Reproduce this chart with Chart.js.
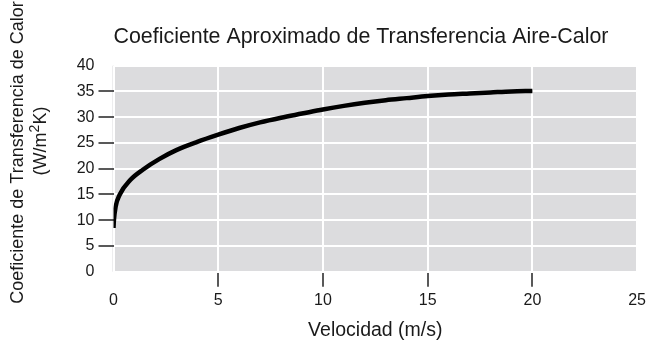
<!DOCTYPE html>
<html>
<head>
<meta charset="utf-8">
<script src="https://cdn.jsdelivr.net/npm/chart.js@4.4.1/dist/chart.umd.min.js"></script>
<style>
  html, body { margin: 0; padding: 0; background: #fff; }
  #wrap { width: 650px; height: 352px; }
</style>
</head>
<body>
<div id="wrap"><canvas id="grafico" width="650" height="352"></canvas></div>
<script>
  // Datos
  const velocidad = [0, 0.02, 0.1, 0.3, 0.8, 1.4, 2.2, 3, 4, 5, 6, 7, 8, 9, 10, 11, 12, 13, 14, 15, 16, 17, 18, 19, 20];
  const coeficiente = [8.5, 10, 12.6, 15, 17.8, 19.8, 21.9, 23.6, 25.2, 26.6, 27.9, 29, 29.9, 30.7, 31.5, 32.2, 32.8, 33.3, 33.7, 34.1, 34.4, 34.6, 34.8, 35, 35.1];

  const titulo = 'Coeficiente Aproximado de Transferencia Aire-Calor';
  const tituloX = 'Velocidad (m/s)';
  const tituloY1 = 'Coeficiente de Transferencia de Calor';
  const tituloY2 = ['(W/m', '2', 'K)']; // el 2 va como superíndice

  const FONT = "'Liberation Sans', Arial, Helvetica, sans-serif";
  const GRIS = '#dcdcde';
  const TEXTO = '#1a1a1a';

  // fondo gris del área de trazado
  const fondoPlugin = {
    id: 'fondoArea',
    beforeDraw(chart) {
      const { ctx, chartArea: { left, top, width, height } } = chart;
      ctx.save();
      ctx.fillStyle = GRIS;
      ctx.fillRect(left - 1, top, width + 1, height);
      ctx.restore();
    }
  };

  // título del eje Y en dos líneas, con m² como superíndice
  const tituloYPlugin = {
    id: 'tituloY',
    afterDraw(chart) {
      const { ctx } = chart;
      const fNormal = '18px ' + FONT;
      const fSup = '14px ' + FONT;
      ctx.save();
      ctx.fillStyle = TEXTO;
      ctx.textBaseline = 'middle';

      ctx.save();
      ctx.font = fNormal;
      ctx.translate(18, 152.5);
      ctx.rotate(-Math.PI / 2);
      ctx.textAlign = 'center';
      ctx.fillText(tituloY1, 0, 0);
      ctx.restore();

      // segunda línea
      ctx.font = fNormal;
      const w0 = ctx.measureText(tituloY2[0]).width;
      const w2 = ctx.measureText(tituloY2[2]).width;
      ctx.font = fSup;
      const w1 = ctx.measureText(tituloY2[1]).width;
      const total = w0 + w1 + w2;
      ctx.save();
      ctx.translate(41, 141);
      ctx.rotate(-Math.PI / 2);
      ctx.textAlign = 'left';
      let x = -total / 2;
      ctx.font = fNormal;
      ctx.fillText(tituloY2[0], x, 0);
      x += w0;
      ctx.font = fSup;
      ctx.fillText(tituloY2[1], x, -6);
      x += w1;
      ctx.font = fNormal;
      ctx.fillText(tituloY2[2], x, 0);
      ctx.restore();

      ctx.restore();
    }
  };

  const puntos = velocidad.map((v, i) => ({ x: v, y: coeficiente[i] }));

  const tickColorX = (c) => (c.tick && (c.tick.value === 0 || c.tick.value === 25)) ? 'rgba(0,0,0,0)' : '#222';
  const tickColorY = (c) => (c.tick && (c.tick.value === 0 || c.tick.value === 40)) ? 'rgba(0,0,0,0)' : '#222';

  new Chart(document.getElementById('grafico').getContext('2d'), {
    type: 'line',
    data: {
      datasets: [{
        data: puntos,
        borderColor: '#000',
        borderWidth: 4.5,
        pointRadius: 0,
        fill: false,
        cubicInterpolationMode: 'monotone'
      }]
    },
    options: {
      responsive: false,
      animation: false,
      devicePixelRatio: 1,
      layout: { padding: { left: 0, right: 9.5, top: 0, bottom: 0 } },
      scales: {
        x: {
          type: 'linear',
          min: 0,
          max: 25,
          border: { display: false },
          afterFit: (s) => { s.height = 80.3; },
          grid: { color: '#fff', lineWidth: 2, drawTicks: true, tickLength: 15, tickColor: tickColorX, tickWidth: 1.5 },
          ticks: { stepSize: 5, color: TEXTO, font: { family: FONT, size: 16 }, padding: 4, maxRotation: 0 },
          title: { display: true, text: tituloX, color: TEXTO, font: { family: FONT, size: 19.5 }, padding: { top: 0, bottom: 10 } }
        },
        y: {
          min: 0,
          max: 40,
          border: { display: false },
          afterFit: (s) => { s.width = 113.5; },
          grid: { color: '#fff', lineWidth: 2, drawTicks: true, tickLength: 15, tickColor: tickColorY, tickWidth: 1.5 },
          ticks: { stepSize: 5, color: TEXTO, font: { family: FONT, size: 16 }, padding: 4 }
        }
      },
      plugins: {
        legend: { display: false },
        tooltip: { enabled: false },
        title: {
          display: true,
          text: titulo,
          fullSize: false,
          align: 'start',
          color: TEXTO,
          font: { family: FONT, size: 21.4, weight: 'normal', lineHeight: 1.2 },
          padding: { top: 24.2, bottom: 15.8 }
        }
      }
    },
    plugins: [fondoPlugin, tituloYPlugin]
  });
</script>
</body>
</html>
